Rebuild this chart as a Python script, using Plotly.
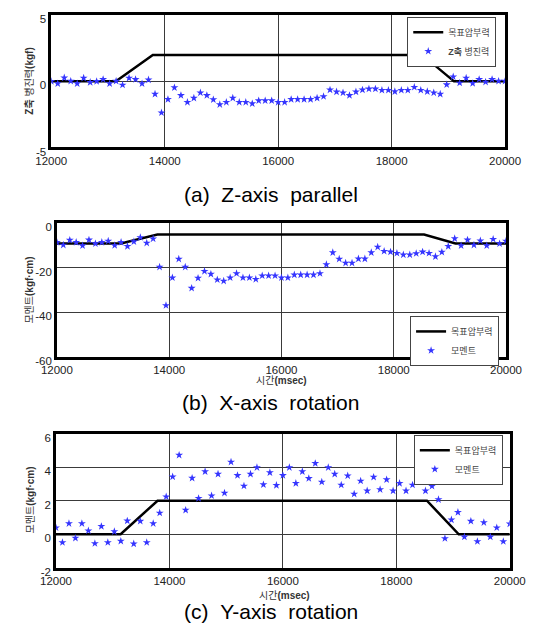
import plotly.graph_objects as go

# ---------------- data ----------------
# sample times (msec): 71 samples evenly spread between 12000 and 20000
sample_times = [round(12000 + i * 8000 / 70) for i in range(71)]

# target pressing force profile (목표압부력)
target_times = [12000, 13140, 13790, 18540, 19100, 20000]
target_z = [0, 0, 2, 2, 0, 0]
target_x = [-9, -9, -5, -5, -9, -9]
target_y = [0, 0, 2, 2, 0, 0]

# (a) Z-axis parallel force (kgf)
z_force = [0.00, -0.17, 0.27, 0.02, -0.17, 0.25, -0.07, 0.00, 0.15, -0.17,
           0.02, -0.27, 0.25, 0.15, -0.17, 0.12, -0.96, -2.37, -1.36, -0.47,
           -1.06, -1.58, -1.26, -0.86, -1.06, -1.38, -1.75, -1.58, -1.26, -1.58,
           -1.58, -1.68, -1.46, -1.46, -1.46, -1.58, -1.58, -1.36, -1.36, -1.36,
           -1.36, -1.26, -1.14, -0.64, -0.79, -0.86, -1.06, -0.79, -0.64, -0.57,
           -0.57, -0.67, -0.67, -0.77, -0.67, -0.67, -0.44, -0.67, -0.77, -0.86,
           -0.96, -0.25, 0.35, -0.12, 0.25, -0.15, 0.15, -0.05, 0.15, 0.02, 0.02]

# (b) X-axis rotation moment (kgf·cm)
x_moment = [-8.5, -9.7, -7.5, -8.5, -10.0, -7.4, -9.1, -8.5, -7.9, -9.9,
            -8.5, -10.3, -8.2, -6.3, -8.8, -6.9, -19.6, -36.9, -24.4, -16.0,
            -19.6, -29.1, -24.6, -21.5, -22.8, -25.3, -25.9, -24.4, -22.5, -24.4,
            -24.4, -25.1, -23.5, -23.5, -23.5, -24.4, -24.4, -23.1, -23.1, -23.1,
            -23.1, -22.5, -18.5, -13.1, -16.0, -17.8, -17.8, -15.9, -15.9, -13.1,
            -10.6, -12.5, -12.8, -13.4, -14.1, -14.1, -13.5, -12.8, -13.4, -14.9,
            -12.9, -10.3, -6.8, -10.0, -7.4, -9.7, -7.8, -10.0, -7.1, -9.1, -7.9]

# (c) Y-axis rotation moment (kgf·cm)
y_moment = [0.39, -0.49, 0.64, -0.23, 0.64, 0.21, -0.55, 0.47, -0.49, 0.16,
            -0.41, 0.80, -0.57, 0.78, -0.49, 0.64, 1.27, 2.24, 3.43, 4.72,
            1.44, 3.35, 2.14, 3.74, 2.30, 3.59, 2.46, 4.31, 3.51, 2.88,
            3.59, 3.98, 2.96, 3.68, 2.92, 3.51, 3.98, 3.04, 3.74, 3.33,
            4.23, 3.12, 3.98, 3.59, 2.94, 3.49, 2.40, 3.18, 2.59, 3.41,
            2.67, 3.26, 2.59, 3.04, 2.59, 2.94, 3.35, 2.59, 2.87, 2.07,
            -0.25, 0.86, 1.31, -0.16, 0.78, -0.43, 0.70, -0.16, 0.39, -0.43, 0.62]

x_ticks = [12000, 14000, 16000, 18000, 20000]
x_tick_labels = ["12000", "14000", "16000", "18000", "20000"]
z_ticks = [-5, 0, 5]
z_tick_labels = ["-5", "0", "5"]
xm_ticks = [-60, -40, -20, 0]
xm_tick_labels = ["-60", "-40", "-20", "0"]
ym_ticks = [-2, 0, 2, 4, 6]
ym_tick_labels = ["-2", "0", "2", "4", "6"]

line_name = "목표압부력"
z_name = "<b>Z축</b> 병진력"
m_name = "모멘트"

# ---------------- figure ----------------
W, H = 538, 633
FONT = "Liberation Sans, Arial, Noto Sans CJK KR, sans-serif"
STAR = "#3535ff"

fig = go.Figure()

panels = [
    ("x", "y", "legend", target_z, z_force, z_name),
    ("x2", "y2", "legend2", target_x, x_moment, m_name),
    ("x3", "y3", "legend3", target_y, y_moment, m_name),
]
for xa, ya, lg, tgt, vals, nm in panels:
    fig.add_trace(go.Scatter(x=target_times, y=tgt, mode="lines", name=line_name,
                             line=dict(color="black", width=2.5),
                             xaxis=xa, yaxis=ya, legend=lg))
    fig.add_trace(go.Scatter(x=sample_times, y=vals, mode="markers", name=nm,
                             marker=dict(symbol="star", size=6, color=STAR,
                                         line=dict(width=0)),
                             xaxis=xa, yaxis=ya, legend=lg))

def px_x(a, b):
    return [a / W, b / W]

def px_y(top, bottom):
    return [1 - bottom / H, 1 - top / H]

axis_common = dict(showline=True, mirror=True, linecolor="black", linewidth=2.5,
                   showgrid=True, gridcolor="#3a3a3a", gridwidth=1, zeroline=False,
                   ticks="", tickfont=dict(size=11.5, color="#222", family=FONT))
x_extra = dict(ticklabelstandoff=1)
y_extra = dict(ticklabelshift=4)

fig.update_layout(
    width=W, height=H,
    margin=dict(l=0, r=0, t=0, b=0),
    paper_bgcolor="white", plot_bgcolor="white",
    font=dict(family=FONT),
    xaxis=dict(domain=px_x(37.5, 520), range=[12000, 20000], tickvals=x_ticks,
               ticktext=x_tick_labels, anchor="y", **axis_common, **x_extra),
    yaxis=dict(domain=px_y(13.5, 148.3), range=[-5, 5], tickvals=z_ticks,
               ticktext=z_tick_labels, anchor="x", **axis_common, **y_extra),
    xaxis2=dict(domain=px_x(43.5, 521), range=[12000, 20000], tickvals=x_ticks,
                ticktext=x_tick_labels, anchor="y2", **axis_common, **x_extra),
    yaxis2=dict(domain=px_y(225.7, 361.7), range=[-60, 0], tickvals=xm_ticks,
                ticktext=xm_tick_labels, anchor="x2", **axis_common, **y_extra),
    xaxis3=dict(domain=px_x(42.5, 525), range=[12000, 20000], tickvals=x_ticks,
                ticktext=x_tick_labels, anchor="y3", **axis_common, **x_extra),
    yaxis3=dict(domain=px_y(440, 576.7), range=[-2, 6], tickvals=ym_ticks,
                ticktext=ym_tick_labels, anchor="x3", **axis_common, **y_extra),
    showlegend=True,
)

leg_common = dict(xanchor="left", yanchor="top", bgcolor="white",
                  bordercolor="#444", borderwidth=1,
                  font=dict(size=9, color="#444", family=FONT),
                  tracegroupgap=0, itemwidth=30)
fig.update_layout(
    legend=dict(x=416 / W, y=1 - 15 / H, **leg_common),
    legend2=dict(x=419 / W, y=1 - 320 / H, **leg_common),
    legend3=dict(x=423 / W, y=1 - 441 / H, **leg_common),
)

ann = []
# y-axis titles
ann.append(dict(text="<b>Z축</b> 병진력<b>(kgf)</b>", x=14 / W, y=1 - 81 / H,
                textangle=-90, font=dict(size=10, color="#333")))
ann.append(dict(text="모멘트<b>(kgf·cm)</b>", x=14 / W, y=1 - 294 / H,
                textangle=-90, font=dict(size=10, color="#333")))
ann.append(dict(text="모멘트<b>(kgf·cm)</b>", x=15 / W, y=1 - 508 / H,
                textangle=-90, font=dict(size=10, color="#333")))
# x-axis titles
ann.append(dict(text="시간<b>(msec)</b>", x=282 / W, y=1 - 386 / H,
                font=dict(size=10, color="#333")))
ann.append(dict(text="시간<b>(msec)</b>", x=285 / W, y=1 - 605 / H,
                font=dict(size=10, color="#333")))
# captions
for txt, yy in [("(a)\u00a0\u00a0Z-axis\u00a0\u00a0parallel", 196),
                ("(b)\u00a0\u00a0X-axis\u00a0\u00a0rotation", 408),
                ("(c)\u00a0\u00a0Y-axis\u00a0\u00a0rotation", 621)]:
    ann.append(dict(text=txt, x=271 / W, y=1 - yy / H,
                    font=dict(size=21, color="black")))

for a in ann:
    a.update(xref="paper", yref="paper", showarrow=False,
             xanchor="center", yanchor="middle")
fig.update_layout(annotations=ann)

fig.write_html("out.html", config={"displayModeBar": False},
               post_script="document.body.style.margin='0';"
                           "document.body.style.padding='0';"
                           "document.body.style.overflow='hidden';")
